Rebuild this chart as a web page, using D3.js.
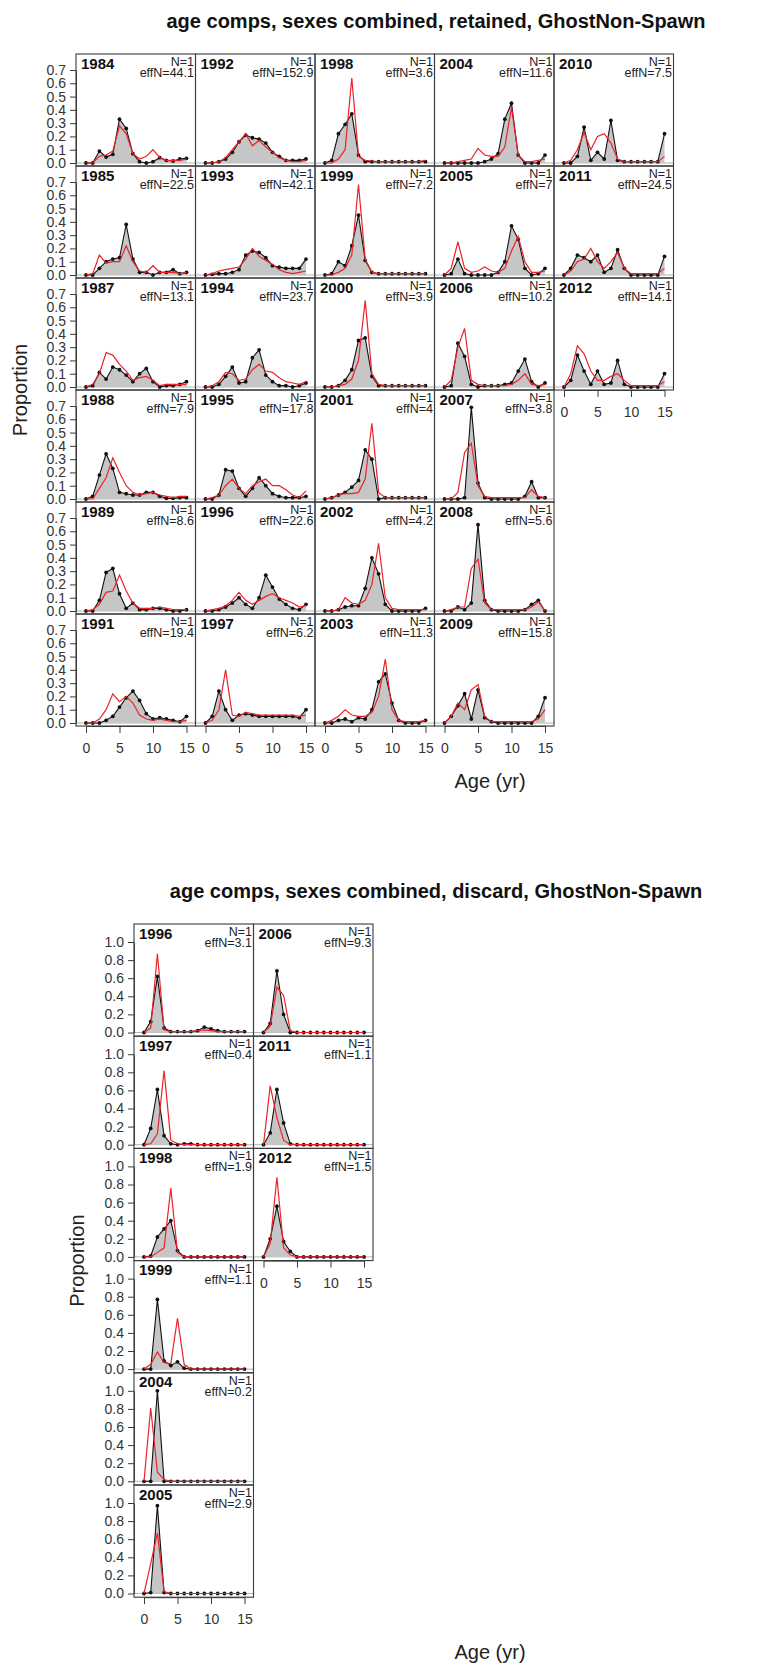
<!DOCTYPE html>
<html>
<head>
<meta charset="utf-8">
<script src="https://cdn.jsdelivr.net/npm/d3@7/dist/d3.min.js"></script>
<style>
  body { margin: 0; background: #fff; }
  svg { display: block; font-family: "Liberation Sans", Arial, sans-serif; }
</style>
</head>
<body>
<svg id="chart" width="757" height="1668"></svg>
<script>
// ages (x categories)
const ages = [0, 1, 2, 3, 4, 5, 6, 7, 8, 9, 10, 11, 12, 13, 14, 15];
const xTicks = [0, 5, 10, 15];

// retained
const retYears = [1984, 1985, 1987, 1988, 1989, 1991, 1992, 1993, 1994, 1995, 1996, 1997, 1998, 1999,
  2000, 2001, 2002, 2003, 2004, 2005, 2006, 2007, 2008, 2009, 2010, 2011, 2012];
const retEffN = ["44.1", "22.5", "13.1", "7.9", "8.6", "19.4", "152.9", "42.1", "23.7", "17.8", "22.6", "6.2",
  "3.6", "7.2", "3.9", "4", "4.2", "11.3", "11.6", "7", "10.2", "3.8", "5.6", "15.8", "7.5", "24.5", "14.1"];
const retObs = [
  [0, 0, 0.09, 0.045, 0.065, 0.33, 0.26, 0.07, 0.01, 0, 0.01, 0.04, 0.02, 0.015, 0.03, 0.035],
  [0, 0, 0.05, 0.1, 0.12, 0.13, 0.38, 0.12, 0.02, 0.02, 0, 0.02, 0.02, 0.04, 0.01, 0.02],
  [0, 0.01, 0.11, 0.06, 0.15, 0.13, 0.09, 0.04, 0.1, 0.14, 0.04, 0, 0.01, 0.01, 0.02, 0.04],
  [0, 0.02, 0.18, 0.34, 0.23, 0.05, 0.04, 0.03, 0.03, 0.05, 0.05, 0.02, 0.005, 0.005, 0.01, 0.01],
  [0, 0, 0.08, 0.29, 0.32, 0.13, 0.02, 0.06, 0.01, 0.01, 0.02, 0.02, 0.01, 0, 0, 0.01],
  [0, 0, 0, 0.02, 0.05, 0.12, 0.19, 0.24, 0.17, 0.07, 0.03, 0.04, 0.03, 0.02, 0.01, 0.05],
  [0, 0, 0.01, 0.03, 0.08, 0.16, 0.21, 0.19, 0.18, 0.15, 0.08, 0.05, 0.02, 0.02, 0.02, 0.03],
  [0, 0.005, 0.01, 0.01, 0.02, 0.04, 0.15, 0.18, 0.17, 0.13, 0.07, 0.06, 0.05, 0.05, 0.05, 0.12],
  [0, 0, 0.02, 0.08, 0.15, 0.03, 0.04, 0.22, 0.28, 0.09, 0.04, 0.01, 0.01, 0, 0.01, 0.03],
  [0, 0, 0.03, 0.22, 0.21, 0.08, 0.02, 0.08, 0.16, 0.1, 0.04, 0.02, 0.01, 0.01, 0.01, 0.02],
  [0, 0, 0.01, 0.03, 0.06, 0.1, 0.05, 0.02, 0.1, 0.27, 0.18, 0.09, 0.05, 0.02, 0.01, 0.05],
  [0, 0.05, 0.24, 0.1, 0.02, 0.06, 0.07, 0.06, 0.05, 0.05, 0.05, 0.05, 0.05, 0.05, 0.04, 0.1],
  [0, 0.02, 0.22, 0.29, 0.37, 0.06, 0.01, 0.01, 0.01, 0.01, 0.01, 0.01, 0.01, 0.01, 0.01, 0.01],
  [0, 0.01, 0.1, 0.07, 0.22, 0.45, 0.11, 0.02, 0.01, 0.01, 0.01, 0.01, 0.01, 0.01, 0.01, 0.01],
  [0, 0, 0.01, 0.05, 0.13, 0.35, 0.37, 0.08, 0.01, 0.01, 0.01, 0.01, 0.01, 0.01, 0.01, 0.01],
  [0, 0.01, 0.03, 0.05, 0.09, 0.14, 0.37, 0.3, 0, 0.01, 0.01, 0.01, 0.01, 0.01, 0.01, 0.01],
  [0, 0, 0.01, 0.03, 0.04, 0.04, 0.17, 0.4, 0.28, 0.05, 0, 0, 0, 0, 0, 0.02],
  [0, 0, 0.02, 0.03, 0.01, 0.04, 0.03, 0.1, 0.31, 0.37, 0.15, 0.02, 0, 0, 0, 0.02],
  [0, 0, 0, 0, 0, 0, 0.01, 0.03, 0.07, 0.33, 0.45, 0.06, 0, 0, 0, 0.06],
  [0, 0.01, 0.12, 0.01, 0, 0, 0, 0, 0.02, 0.1, 0.37, 0.27, 0.05, 0, 0.01, 0.05],
  [0, 0.01, 0.33, 0.23, 0.02, 0, 0.01, 0.01, 0.01, 0.02, 0.03, 0.12, 0.21, 0.04, 0, 0.03],
  [0, 0, 0, 0.01, 0.69, 0.12, 0.01, 0, 0, 0, 0, 0, 0.02, 0.13, 0.01, 0.01],
  [0, 0, 0.03, 0.01, 0.06, 0.65, 0.08, 0.01, 0, 0, 0, 0, 0.01, 0.05, 0.08, 0],
  [0, 0.05, 0.13, 0.22, 0.03, 0.25, 0.04, 0.01, 0, 0, 0, 0, 0, 0, 0.05, 0.19],
  [0, 0, 0.05, 0.27, 0.02, 0.08, 0.03, 0.32, 0.02, 0.01, 0.01, 0.01, 0.01, 0.01, 0.01, 0.22],
  [0, 0.05, 0.15, 0.13, 0.1, 0.15, 0.02, 0.05, 0.19, 0.05, 0, 0, 0, 0, 0, 0.14],
  [0, 0.05, 0.24, 0.12, 0.02, 0.12, 0.02, 0.03, 0.2, 0.02, 0, 0, 0, 0, 0, 0.1]
];
const retExp = [
  [0, 0, 0.05, 0.06, 0.09, 0.28, 0.22, 0.07, 0.03, 0.05, 0.1, 0.04, 0.02, 0.02, 0.02, 0.03],
  [0, 0.01, 0.15, 0.09, 0.1, 0.1, 0.22, 0.1, 0.03, 0.02, 0.07, 0.02, 0.02, 0.02, 0.01, 0.02],
  [0, 0.02, 0.1, 0.26, 0.24, 0.17, 0.12, 0.05, 0.07, 0.08, 0.05, 0.01, 0.02, 0.02, 0.02, 0.02],
  [0, 0, 0.08, 0.16, 0.31, 0.2, 0.1, 0.05, 0.03, 0.04, 0.05, 0.03, 0.02, 0.01, 0.02, 0.02],
  [0, 0.01, 0.05, 0.14, 0.15, 0.27, 0.15, 0.06, 0.02, 0.02, 0.02, 0.03, 0.02, 0.01, 0.01, 0.01],
  [0, 0, 0.03, 0.1, 0.22, 0.16, 0.2, 0.15, 0.06, 0.03, 0.02, 0.03, 0.02, 0.01, 0.01, 0.02],
  [0, 0, 0.01, 0.04, 0.1, 0.16, 0.22, 0.13, 0.17, 0.12, 0.08, 0.04, 0.02, 0.01, 0.01, 0.02],
  [0, 0.01, 0.03, 0.04, 0.05, 0.06, 0.12, 0.2, 0.14, 0.11, 0.08, 0.04, 0.02, 0.01, 0.02, 0.03],
  [0, 0.01, 0.04, 0.11, 0.1, 0.05, 0.06, 0.13, 0.17, 0.12, 0.11, 0.07, 0.04, 0.03, 0.02, 0.04],
  [0, 0.01, 0.03, 0.1, 0.15, 0.08, 0.04, 0.1, 0.13, 0.15, 0.1, 0.1, 0.07, 0.03, 0.01, 0.06],
  [0, 0.01, 0.02, 0.04, 0.08, 0.14, 0.08, 0.05, 0.08, 0.11, 0.13, 0.1, 0.08, 0.06, 0.03, 0.04],
  [0, 0.02, 0.1, 0.4, 0.06, 0.05, 0.08, 0.07, 0.06, 0.06, 0.06, 0.06, 0.06, 0.06, 0.05, 0.06],
  [0, 0, 0.03, 0.1, 0.64, 0.05, 0.02, 0.015, 0.01, 0.01, 0.01, 0.01, 0.01, 0.01, 0.01, 0.02],
  [0, 0, 0.02, 0.05, 0.15, 0.68, 0.12, 0.02, 0.01, 0.01, 0.01, 0.01, 0.01, 0.01, 0.01, 0.01],
  [0, 0, 0.01, 0.02, 0.06, 0.2, 0.65, 0.1, 0.02, 0.01, 0.01, 0.01, 0.01, 0.01, 0.01, 0.01],
  [0, 0.01, 0.03, 0.04, 0.04, 0.05, 0.15, 0.57, 0.05, 0.01, 0.01, 0.01, 0.01, 0.01, 0.01, 0.01],
  [0, 0, 0.01, 0.1, 0.06, 0.05, 0.08, 0.2, 0.51, 0.1, 0.02, 0.01, 0.01, 0.01, 0.01, 0.01],
  [0, 0.02, 0.05, 0.1, 0.06, 0.05, 0.05, 0.08, 0.2, 0.48, 0.1, 0.02, 0.01, 0.01, 0.01, 0.02],
  [0, 0, 0.01, 0.02, 0.03, 0.11, 0.06, 0.05, 0.05, 0.12, 0.42, 0.06, 0.01, 0.01, 0.02, 0.03],
  [0, 0.05, 0.25, 0.05, 0.02, 0.03, 0.06, 0.03, 0.02, 0.05, 0.18, 0.29, 0.1, 0.02, 0.02, 0.03],
  [0, 0.05, 0.3, 0.44, 0.05, 0.02, 0.01, 0.01, 0.01, 0.01, 0.02, 0.05, 0.1, 0.02, 0.01, 0.02],
  [0, 0, 0.05, 0.35, 0.42, 0.1, 0.02, 0.01, 0.01, 0.01, 0.01, 0.01, 0.01, 0.07, 0.02, 0.01],
  [0, 0.01, 0.03, 0.03, 0.32, 0.39, 0.06, 0.01, 0.01, 0.01, 0.01, 0.01, 0.01, 0.03, 0.07, 0],
  [0, 0.05, 0.15, 0.1, 0.25, 0.29, 0.05, 0.01, 0.01, 0.01, 0.01, 0.01, 0.01, 0.01, 0.03, 0.1],
  [0, 0.02, 0.1, 0.23, 0.1, 0.2, 0.22, 0.15, 0.03, 0.01, 0.01, 0.01, 0.01, 0.01, 0.01, 0.05],
  [0, 0.03, 0.1, 0.12, 0.2, 0.1, 0.05, 0.1, 0.17, 0.05, 0.01, 0.01, 0.01, 0.01, 0.01, 0.05],
  [0, 0.1, 0.31, 0.25, 0.12, 0.05, 0.05, 0.08, 0.1, 0.05, 0.01, 0.01, 0.01, 0.01, 0.01, 0.04]
];
const retYTicks = [0, 0.1, 0.2, 0.3, 0.4, 0.5, 0.6, 0.7];

// discard
const disYears = [1996, 1997, 1998, 1999, 2004, 2005, 2006, 2011, 2012];
const disEffN = ["3.1", "0.4", "1.9", "1.1", "0.2", "2.9", "9.3", "1.1", "1.5"];
const disObs = [
  [0, 0.12, 0.62, 0.05, 0.01, 0.01, 0.01, 0.01, 0.02, 0.06, 0.04, 0.02, 0.01, 0.01, 0.01, 0.01],
  [0, 0.18, 0.61, 0.1, 0.01, 0, 0.01, 0.01, 0, 0, 0, 0, 0, 0, 0, 0],
  [0, 0.01, 0.22, 0.31, 0.4, 0.07, 0, 0, 0, 0, 0, 0, 0, 0, 0, 0],
  [0, 0, 0.77, 0.09, 0.04, 0.08, 0.01, 0, 0, 0, 0, 0, 0, 0, 0, 0],
  [0, 0, 1.0, 0, 0, 0, 0, 0, 0, 0, 0, 0, 0, 0, 0, 0],
  [0, 0.01, 0.97, 0.01, 0, 0, 0, 0, 0, 0, 0, 0, 0, 0, 0, 0],
  [0, 0.1, 0.68, 0.2, 0, 0, 0, 0, 0, 0, 0, 0, 0, 0, 0, 0],
  [0, 0.13, 0.61, 0.24, 0.01, 0, 0, 0, 0, 0, 0, 0, 0, 0, 0, 0],
  [0, 0.2, 0.56, 0.17, 0.06, 0, 0, 0, 0, 0, 0, 0, 0, 0, 0, 0]
];
const disExp = [
  [0, 0.05, 0.87, 0.03, 0.01, 0.01, 0.01, 0.01, 0.02, 0.03, 0.02, 0.01, 0.01, 0.01, 0.01, 0.01],
  [0, 0.01, 0.12, 0.82, 0.05, 0.01, 0, 0, 0, 0, 0, 0, 0, 0, 0, 0],
  [0, 0, 0.05, 0.1, 0.76, 0.05, 0, 0, 0, 0, 0, 0, 0, 0, 0, 0],
  [0, 0.05, 0.19, 0.07, 0.06, 0.56, 0.05, 0, 0, 0, 0, 0, 0, 0, 0, 0],
  [0, 0.81, 0.1, 0.02, 0, 0, 0, 0, 0, 0, 0, 0, 0, 0, 0, 0],
  [0, 0.33, 0.67, 0.02, 0, 0, 0, 0, 0, 0, 0, 0, 0, 0, 0, 0],
  [0, 0.07, 0.5, 0.41, 0.02, 0, 0, 0, 0, 0, 0, 0, 0, 0, 0, 0],
  [0, 0.65, 0.3, 0.05, 0, 0, 0, 0, 0, 0, 0, 0, 0, 0, 0, 0],
  [0, 0.15, 0.88, 0.1, 0.02, 0, 0, 0, 0, 0, 0, 0, 0, 0, 0, 0]
];
const disYTicks = [0, 0.2, 0.4, 0.6, 0.8, 1.0];

var svg = d3.select("#chart");
var nRows = 6;
var axisFont = "'Liberation Sans', Arial, sans-serif";

// one multi-panel figure
function drawFig(o) {
  var fig = svg.append("g");
  var x = d3.scaleLinear().domain([0, 15]).range([10, 110.5]);
  var y = d3.scaleLinear().domain([0, o.yMax]).range([o.y0, o.yTop]);

  var area = d3.area().x(d => x(d.age)).y0(y(0)).y1(d => y(d.obs));
  var obsLine = d3.line().x(d => x(d.age)).y(d => y(d.obs));
  var expLine = d3.line().x(d => x(d.age)).y(d => y(d.exp));

  o.years.forEach(function (yr, i) {
    var col = Math.floor(i / nRows), row = i % nRows;
    var pg = fig.append("g")
      .attr("transform", "translate(" + (o.left + col * o.w) + "," + (o.top + row * o.h) + ")");
    var pts = ages.map((a, k) => ({ age: a, obs: o.obs[i][k], exp: o.exp[i][k] }));

    // zero line
    pg.append("line").attr("x1", 0).attr("x2", o.w).attr("y1", y(0)).attr("y2", y(0))
      .attr("stroke", "#b4b4b4").attr("stroke-width", 1);
    pg.append("path").datum(pts).attr("d", area).attr("fill", "#c6c6c6");
    pg.append("path").datum(pts).attr("d", obsLine)
      .attr("fill", "none").attr("stroke", "#111").attr("stroke-width", 1.1);
    pg.selectAll("circle").data(pts).enter().append("circle")
      .attr("cx", d => x(d.age)).attr("cy", d => y(d.obs)).attr("r", 1.9).attr("fill", "#111");
    pg.append("path").datum(pts).attr("d", expLine)
      .attr("fill", "none").attr("stroke", "#ec2228").attr("stroke-width", 1.2);

    // box
    pg.append("rect").attr("width", o.w).attr("height", o.h)
      .attr("fill", "none").attr("stroke", "#3a3a3a").attr("stroke-width", 1.1);

    // year, N, effN
    pg.append("text").attr("x", 5).attr("y", 14.5).style("font-size", "15px").style("font-weight", "700")
      .attr("fill", "#111").text(yr);
    pg.append("text").attr("x", o.w - 1.5).attr("y", 12).attr("text-anchor", "end")
      .style("font-size", "12.5px").attr("fill", "#222").text("N=1");
    pg.append("text").attr("x", o.w - 1.5).attr("y", 23).attr("text-anchor", "end")
      .style("font-size", "12.5px").attr("fill", "#222").text("effN=" + o.effN[i]);

    // y axis on first column
    if (col == 0) {
      var ya = pg.append("g").call(d3.axisLeft(y).tickValues(o.yTicks).tickFormat(d3.format(".1f"))
        .tickSize(6).tickSizeOuter(0).tickPadding(4));
      ya.select(".domain").attr("stroke", "#3a3a3a");
      ya.selectAll("line").attr("stroke", "#3a3a3a");
      ya.selectAll("text").style("font-size", "14px").attr("fill", "#333").style("font-family", axisFont);
    }
    // x axis under last panel of each column
    if (row == nRows - 1 || i == o.years.length - 1) {
      var xa = pg.append("g").attr("transform", "translate(0," + o.h + ")")
        .call(d3.axisBottom(x).tickValues(xTicks).tickSize(7).tickSizeOuter(0).tickPadding(10));
      xa.select(".domain").attr("stroke", "#3a3a3a");
      xa.selectAll("line").attr("stroke", "#3a3a3a");
      xa.selectAll("text").style("font-size", "14px").attr("fill", "#333").style("font-family", axisFont);
    }
  });

  var bottom = o.top + nRows * o.h;
  // titles
  svg.append("text").attr("x", o.titleX).attr("y", o.top - 26).attr("text-anchor", "middle")
    .style("font-size", "20px").style("font-weight", "700").attr("fill", "#111").text(o.title);
  svg.append("text").attr("x", o.xlabX).attr("y", bottom + 62).attr("text-anchor", "middle")
    .style("font-size", "20px").attr("fill", "#222").text("Age (yr)");
  svg.append("text").attr("transform", "translate(" + o.ylabX + "," + (o.top + nRows * o.h / 2) + ") rotate(-90)")
    .attr("text-anchor", "middle").style("font-size", "20px").attr("fill", "#222").text("Proportion");
}

drawFig({
  years: retYears, effN: retEffN, obs: retObs, exp: retExp, yTicks: retYTicks, yMax: 0.7,
  left: 76, top: 54, w: 119.5, h: 112, y0: 109, yTop: 16,
  title: "age comps, sexes combined, retained, GhostNon-Spawn", titleX: 436, xlabX: 490, ylabX: 27
});

drawFig({
  years: disYears, effN: disEffN, obs: disObs, exp: disExp, yTicks: disYTicks, yMax: 1.0,
  left: 134, top: 924, w: 119.5, h: 112.2, y0: 108.5, yTop: 18,
  title: "age comps, sexes combined, discard, GhostNon-Spawn", titleX: 436, xlabX: 490, ylabX: 84
});
</script>
</body>
</html>
